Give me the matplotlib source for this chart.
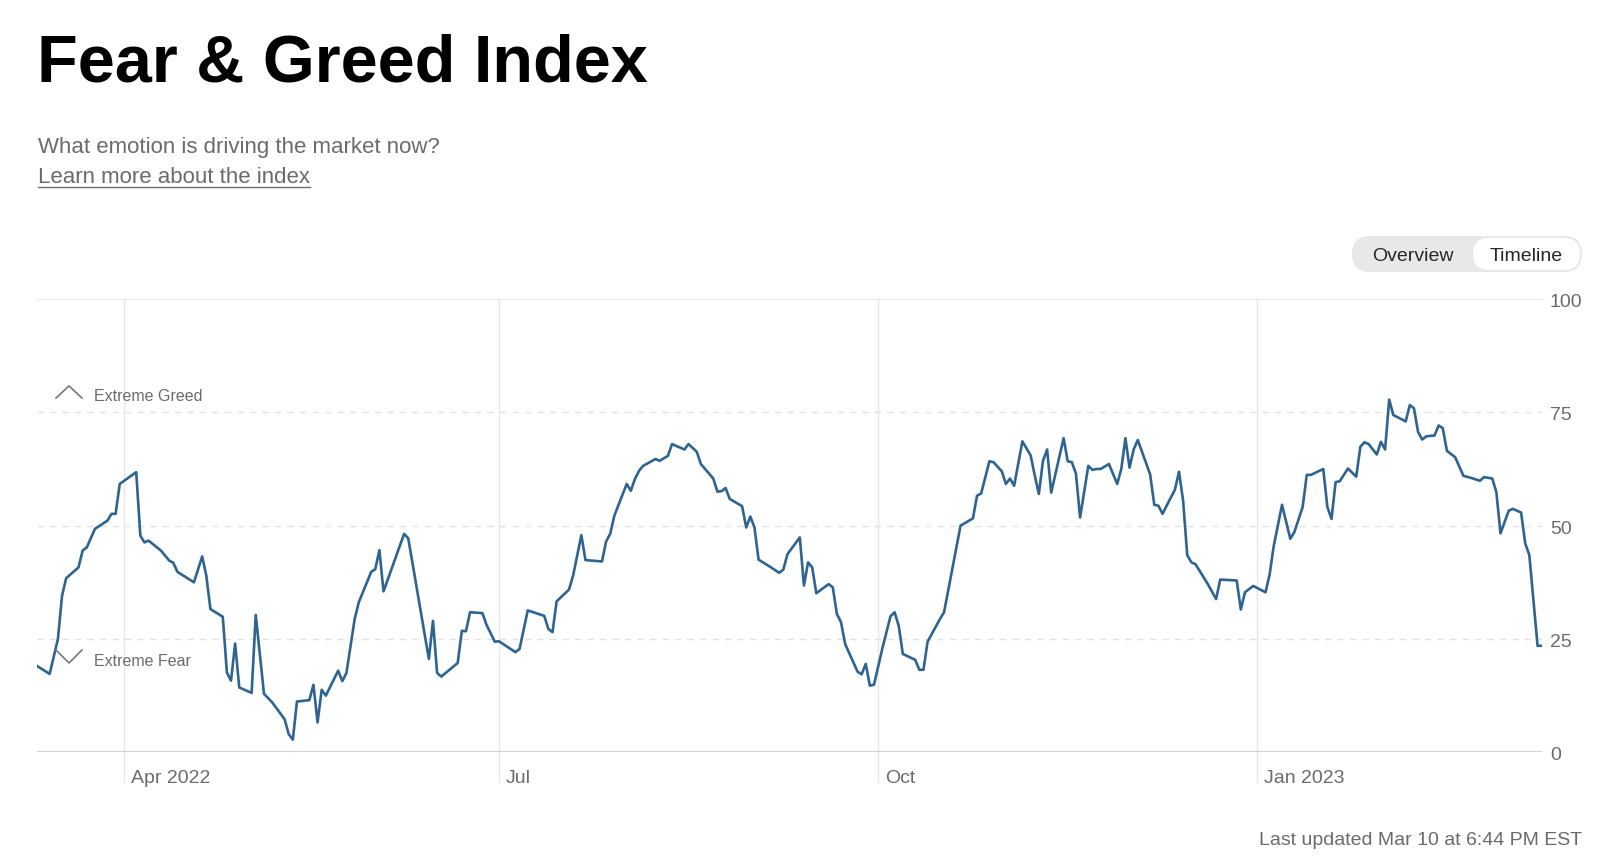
import matplotlib.pyplot as plt
import pandas as pd
from matplotlib.patches import FancyBboxPatch
from matplotlib.lines import Line2D
from matplotlib.transforms import IdentityTransform, blended_transform_factory

plt.rcParams['font.family'] = ['Liberation Sans', 'DejaVu Sans']

# data: days after the start date, and index value
start = "2022-03-11"
day_offset = [0, 3, 5, 6, 7, 10, 11, 12, 14, 17, 18, 19, 20, 24, 25, 26, 27, 30, 32, 33,
              34, 38, 40, 41, 42, 45, 46, 47, 48, 49, 52, 53, 55, 57, 60, 61, 62, 63, 66, 67,
              68, 69, 70, 73, 74, 75, 77, 78, 81, 82, 83, 84, 89, 90, 95, 96, 97, 98, 102, 103,
              104, 105, 108, 109, 111, 112, 116, 117, 119, 123, 124, 125, 126, 129, 130, 132, 133, 137, 138, 139,
              140, 143, 144, 145, 146, 147, 150, 151, 153, 154, 157, 158, 160, 161, 164, 165, 166, 167, 168, 171,
              172, 173, 174, 175, 178, 180, 181, 182, 185, 186, 187, 188, 189, 192, 193, 194, 195, 196, 199, 200,
              201, 202, 203, 205, 207, 208, 209, 210, 213, 214, 215, 216, 219, 220, 224, 227, 228, 229, 231, 232,
              234, 235, 236, 237, 239, 241, 242, 243, 244, 245, 246, 249, 250, 251, 252, 253, 255, 256, 257, 258,
              260, 262, 263, 264, 265, 266, 267, 270, 271, 272, 273, 274, 276, 277, 278, 279, 280, 281, 284, 286,
              287, 291, 292, 293, 295, 298, 299, 300, 302, 304, 305, 307, 308, 309, 312, 313, 314, 315, 316, 318,
              320, 321, 322, 323, 325, 326, 327, 328, 329, 332, 333, 334, 335, 336, 337, 339, 340, 341, 342, 344,
              346, 348, 350, 351, 353, 354, 355, 357, 358, 360, 361, 362, 364, 365]
index_value = [19.0, 17.3, 25.0, 34.5, 38.4, 40.8, 44.5, 45.2, 49.3, 51.1, 52.6, 52.6, 59.2, 61.8, 47.8, 46.3, 46.7, 44.5, 42.3, 41.8,
               39.8, 37.5, 43.2, 39.0, 31.6, 29.9, 17.6, 15.8, 24.0, 14.3, 13.1, 30.3, 12.9, 11.0, 7.3, 4.0, 2.8, 11.2, 11.5, 14.9,
               6.6, 13.8, 12.5, 18.0, 15.7, 17.5, 29.4, 33.1, 39.8, 40.4, 44.6, 35.5, 48.2, 47.2, 20.6, 29.0, 17.5, 16.7, 19.7, 26.8,
               26.7, 30.9, 30.7, 28.1, 24.4, 24.5, 22.1, 22.8, 31.3, 30.1, 27.2, 26.5, 33.3, 35.9, 39.0, 47.9, 42.4, 42.1, 46.5, 48.2,
               52.2, 59.2, 57.7, 60.3, 62.1, 63.2, 64.7, 64.3, 65.4, 68.0, 66.8, 68.0, 66.3, 63.6, 60.4, 57.5, 57.6, 58.3, 55.9, 54.3,
               49.6, 52.0, 49.6, 42.5, 40.8, 39.6, 40.3, 43.7, 47.4, 36.8, 41.9, 40.8, 35.1, 37.1, 36.4, 30.5, 28.7, 23.9, 17.8, 17.2,
               19.5, 14.7, 14.9, 22.8, 30.0, 30.9, 27.9, 21.7, 20.4, 18.2, 18.2, 24.4, 29.4, 30.9, 50.0, 51.6, 56.6, 57.1, 64.2, 64.0,
               62.0, 59.2, 60.4, 58.8, 68.6, 65.5, 61.1, 57.0, 64.3, 66.8, 57.3, 69.3, 64.2, 64.0, 61.5, 51.8, 63.2, 62.3, 62.5, 62.5,
               63.6, 59.2, 62.5, 69.3, 62.8, 66.8, 68.9, 61.3, 54.6, 54.4, 52.6, 54.4, 57.9, 61.9, 55.5, 43.5, 41.9, 41.5, 37.1, 33.8,
               38.1, 37.9, 31.5, 35.3, 36.7, 35.3, 39.3, 45.6, 54.6, 47.1, 48.6, 54.1, 61.2, 61.2, 62.5, 54.1, 51.5, 59.6, 59.8, 62.6,
               60.8, 67.4, 68.4, 68.0, 65.7, 68.5, 66.8, 77.8, 74.4, 73.0, 76.6, 75.9, 70.7, 69.0, 69.7, 69.9, 72.1, 71.5, 66.5, 65.1,
               61.0, 60.5, 59.9, 60.7, 60.4, 57.4, 48.3, 53.3, 53.7, 52.9, 46.1, 43.5, 23.5, 23.5]
month_ticks = ["2022-04-01", "2022-07-01", "2022-10-01", "2023-01-01"]
month_labels = ["Apr 2022", "Jul", "Oct", "Jan 2023"]
y_ticks = [0, 25, 50, 75, 100]

dates = pd.Timestamp(start) + pd.to_timedelta(day_offset, unit="D")

W, H = 1600, 862
fig = plt.figure(figsize=(16, 8.62), dpi=100)
ax = fig.add_axes([37.3 / W, 1 - 753.3 / H, 1504.4 / W, 453.3 / H])
ax.set_axis_off()
ax.set_xlim(pd.Timestamp(start), pd.Timestamp(start) + pd.Timedelta(days=365))
ax.set_ylim(0, 100)

grey = "#6b6b6b"

# grid
for v in (25, 50, 75):
    ax.axhline(v, color="#e2e2e2", lw=1, ls=(0, (4.5, 4.5)), zorder=0)
ax.axhline(100, color="#ebebeb", lw=1, zorder=0)
ax.axhline(0, color="#d5d5d5", lw=1.6, zorder=1)

tx = blended_transform_factory(ax.transData, ax.transAxes)
for d, lab in zip(month_ticks, month_labels):
    d = pd.Timestamp(d)
    ax.plot([d, d], [-0.066, 1], transform=tx, clip_on=False, color="#e6e6e6", lw=1, zorder=0)
    ax.text(d + pd.Timedelta(days=1.7), -0.0655, lab, transform=tx, ha="left", va="baseline",
            fontsize=14, color=grey)

ty = blended_transform_factory(ax.transAxes, ax.transData)
for v in y_ticks:
    ax.text(1.0055, v - 1.55, str(v), transform=ty, ha="left", va="baseline", fontsize=14, color=grey)

ax.plot(dates, index_value, color="#2e6491", lw=1.9, zorder=3)

# extreme markers
def px(x, y):
    return x / W, 1 - y / H

fig.add_artist(Line2D(*zip(px(56, 399), px(69, 387), px(82, 399)), transform=fig.transFigure,
                      color="#777777", lw=1.2))
fig.add_artist(Line2D(*zip(px(56, 651), px(69, 664), px(82, 651)), transform=fig.transFigure,
                      color="#777777", lw=1.2))
fig.text(*px(94, 401), "Extreme Greed", fontsize=11.5, color=grey, va="baseline")
fig.text(*px(94, 666), "Extreme Fear", fontsize=11.5, color=grey, va="baseline")

# header
fig.text(*px(37, 82), "Fear & Greed Index", fontsize=48, fontweight="bold", color="black", va="baseline")
fig.text(*px(38, 153), "What emotion is driving the market now?", fontsize=16, color=grey, va="baseline")
link = fig.text(*px(38, 183), "Learn more about the index", fontsize=16, color=grey, va="baseline")
fig.canvas.draw()
bb = link.get_window_extent()
fig.add_artist(Line2D([bb.x0 / W, bb.x1 / W], [1 - 188 / H] * 2, transform=fig.transFigure,
                      color=grey, lw=1))

# toggle
fig.add_artist(FancyBboxPatch((1352, H - 273), 230, 36, boxstyle="round,pad=0,rounding_size=18",
                              transform=IdentityTransform(), facecolor="#e8e8e8", edgecolor="none"))
fig.add_artist(FancyBboxPatch((1473, H - 271), 107, 32, boxstyle="round,pad=0,rounding_size=16",
                              transform=IdentityTransform(), facecolor="white", edgecolor="none"))
fig.text(*px(1413, 261), "Overview", fontsize=14, color="#262626", ha="center", va="baseline")
fig.text(*px(1526, 261), "Timeline", fontsize=14, color="#262626", ha="center", va="baseline")

fig.text(*px(1582, 845), "Last updated Mar 10 at 6:44 PM EST", fontsize=14, color=grey,
         ha="right", va="baseline")

fig.savefig("out.png", dpi=100)
